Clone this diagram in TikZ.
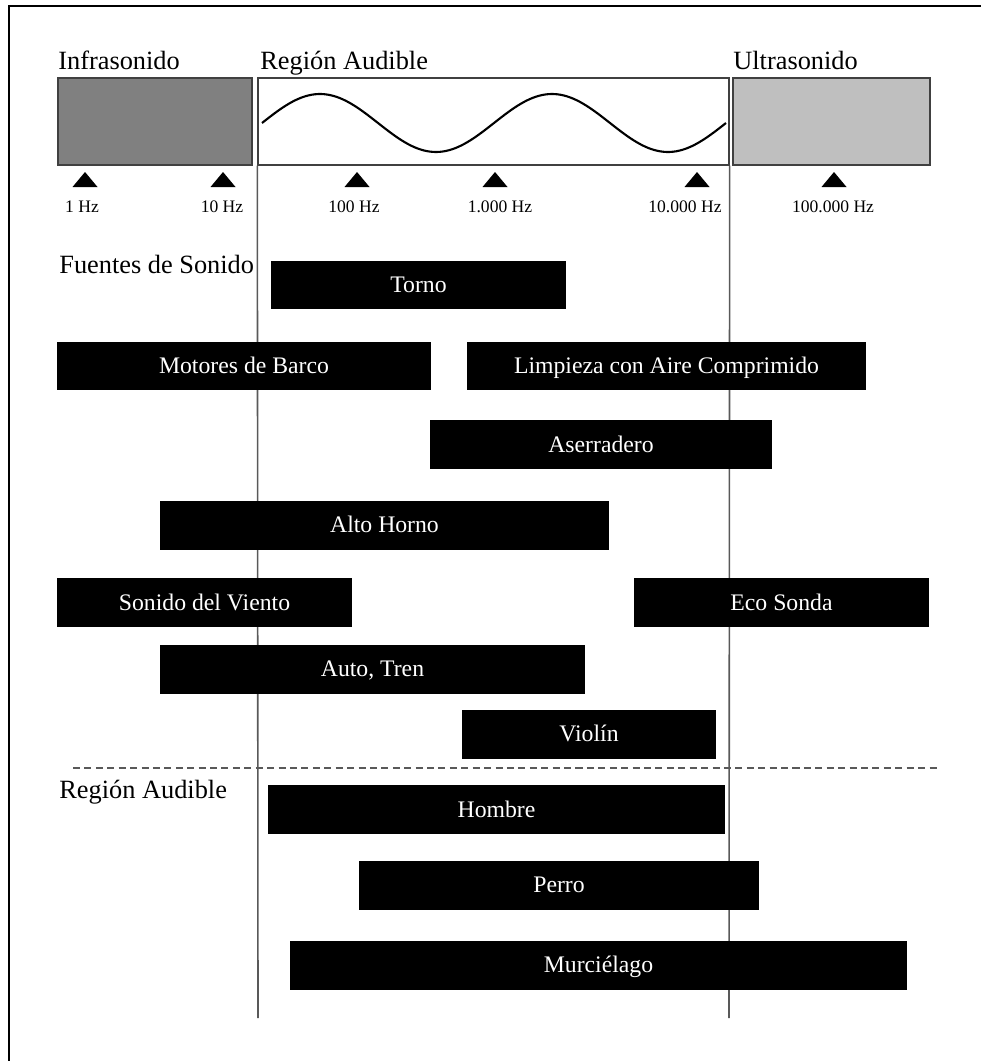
\documentclass[tikz,border=0pt]{standalone}
\usepackage{fontspec}
\setmainfont{Liberation Serif}
\tikzset{
  bar/.style={fill=black, text=white, minimum width=#1, minimum height=0.98cm, inner sep=0pt, text height=9pt, text depth=0pt, font=\fontsize{13.5}{16}\selectfont},
  band/.style={draw=black!75, line width=0.8pt, minimum width=#1, minimum height=1.74cm, inner sep=0pt},
  title/.style={anchor=base west, inner sep=0pt, font=\fontsize{15}{18}\selectfont},
  hz/.style={anchor=base, inner sep=0pt, font=\fontsize{10}{12}\selectfont},
  divider/.style={draw=black!65, line width=0.9pt},
}
\begin{document}
\begin{tikzpicture}[x=0.02cm, y=-0.02cm]
    \useasboundingbox (0,0) rectangle (981,1061);
    % frame
    \draw[line width=1.2pt] (9,1061) -- (9,6) -- (981,6);

    % frequency bands
    \node[band=3.88cm, fill=black!50] (infra) at (155,121.5) {};
    \node[band=9.42cm] (audible) at (493.5,121.5) {};
    \node[band=3.94cm, fill=black!25] (ultra) at (831.5,121.5) {};
    \node[title] (t_infra) at (58,70) {Infrasonido};
    \node[title] (t_audible) at (260,70) {Región Audible};
    \node[title] (t_ultra) at (733,70) {Ultrasonido};
    \draw[line width=1.2pt] plot[domain=0:720, samples=150, smooth] ({262+\x/360*232}, {123-29*sin(\x)});

    % scale marks
    \foreach \tx/\lx/\name/\txt in {85/82/hzA/1 Hz, 223/222/hzB/10 Hz, 357/354/hzC/100 Hz,
        495/500/hzD/1.000 Hz, 697/685/hzE/10.000 Hz, 834/833/hzF/100.000 Hz}{
      \fill (\tx-12.5,187) -- (\tx,172) -- (\tx+12.5,187) -- cycle;
      \node[hz] (\name) at (\lx,212) {\txt};
    }

    % limits of the audible region (behind the bars)
    \coordinate (low_end) at (258,1018);
    \coordinate (high_end) at (729,1018);
    \draw[divider] (audible.south west) -- (low_end);
    \draw[divider] (audible.south east) -- (high_end);

    % sound sources
    \node[title] (t_sources) at (59,273) {Fuentes de Sonido};
    \node[bar=5.90cm] (torno) at (418.5,285) {Torno};
    \node[bar=7.48cm] (motores) at (244,366) {Motores de Barco};
    \node[bar=7.98cm] (limpieza) at (666.5,366) {Limpieza con Aire Comprimido};
    \node[bar=6.84cm] (aserradero) at (601,444.5) {Aserradero};
    \node[bar=8.98cm] (horno) at (384.5,525) {Alto Horno};
    \node[bar=5.90cm] (viento) at (204.5,602.5) {Sonido del Viento};
    \node[bar=5.90cm] (eco) at (781.5,602.5) {Eco Sonda};
    \node[bar=8.50cm] (auto) at (372.5,669) {Auto, Tren};
    \node[bar=5.08cm] (violin) at (589,734) {Violín};

    \draw[draw=black!65, line width=1.1pt, dash pattern=on 4pt off 2.5pt] (73,768) -- (940,768);

    % hearing ranges
    \node[title] (t_hearing) at (59,798) {Región Audible};
    \node[bar=9.14cm] (hombre) at (496.5,809.5) {Hombre};
    \node[bar=8.00cm] (perro) at (559,885) {Perro};
    \node[bar=12.34cm] (murcielago) at (598.5,965) {Murciélago};
\end{tikzpicture}
\end{document}
